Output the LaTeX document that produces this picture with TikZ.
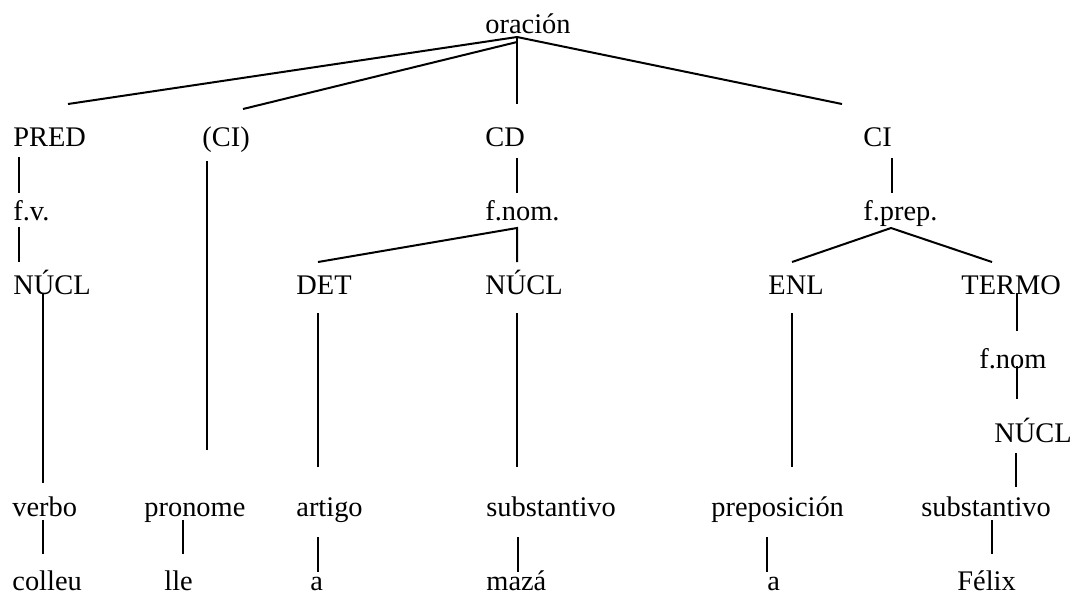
\documentclass[tikz,border=0pt]{standalone}
\usepackage{fontspec}
\setmainfont{Liberation Serif}
\tikzset{
  lbl/.style={anchor=base west, inner sep=0pt, font=\fontsize{14.2}{17}\selectfont},
  edge/.style={line width=1pt, line cap=butt}
}
\begin{document}
\begin{tikzpicture}[x=0.5pt,y=-0.5pt]
\useasboundingbox (0,0) rectangle (1079,596);
% labels
\node[lbl] (orac)  at (485,33)  {oración};
\node[lbl] (pred)  at (13,146)  {PRED};
\node[lbl] (ciA)   at (202,146) {(CI)};
\node[lbl] (cd)    at (485,146) {CD};
\node[lbl] (ci)    at (863,146) {CI};
\node[lbl] (fv)    at (13,220)  {f.v.};
\node[lbl] (fnom)  at (485,220) {f.nom.};
\node[lbl] (fprep) at (863,220) {f.prep.};
\node[lbl] (nuclA) at (13,294)  {NÚCL};
\node[lbl] (det)   at (296,294) {DET};
\node[lbl] (nuclB) at (485,294) {NÚCL};
\node[lbl] (enl)   at (768,294) {ENL};
\node[lbl] (termo) at (961,294) {TERMO};
\node[lbl] (fnomB) at (979,368) {f.nom};
\node[lbl] (nuclC) at (994,442) {NÚCL};
\node[lbl] (verbo) at (12,516)  {verbo};
\node[lbl] (prono) at (144,516) {pronome};
\node[lbl] (artig) at (296,516) {artigo};
\node[lbl] (subsA) at (486,516) {substantivo};
\node[lbl] (prepo) at (711,516) {preposición};
\node[lbl] (subsB) at (921,516) {substantivo};
\node[lbl] (colleu) at (12,590) {colleu};
\node[lbl] (lle)   at (164,590) {lle};
\node[lbl] (artA)  at (310,590) {a};
\node[lbl] (maza)  at (486,590) {mazá};
\node[lbl] (artB)  at (767,590) {a};
\node[lbl] (felix) at (957,590) {Félix};
% branch points
\coordinate (orac-a)  at (517,37);
\coordinate (orac-b)  at (517,42);
\coordinate (pred-t)  at (68,104);
\coordinate (ciA-t)   at (243,109);
\coordinate (cd-t)    at (517,104);
\coordinate (ci-t)    at (842,104);
\coordinate (fnom-a)  at (517,228);
\coordinate (det-t)   at (318,262);
\coordinate (nuclB-t) at (517,262);
\coordinate (fprep-a) at (891,228);
\coordinate (enl-t)   at (792,262);
\coordinate (termo-t) at (992,262);
\draw[edge] (orac-a) -- (pred-t);
\draw[edge] (orac-b) -- (ciA-t);
\draw[edge] (orac-a) -- (cd-t);
\draw[edge] (orac-a) -- (ci-t);
\draw[edge] (det-t) -- (fnom-a) -- (nuclB-t);
\draw[edge] (enl-t) -- (fprep-a) -- (termo-t);
% vertical stubs
\foreach \n/\x/\a/\b in {pred/19/157/193, cd/517/158/193, ci/892/158/193,
  ciA/207/161/450, fv/19/227/262, nuclA/43/293/483, det/318/313/467,
  nuclB/517/313/467, enl/792/313/467, termo/1017/293/331,
  fnomB/1017/366/399, nuclC/1016/453/487, verbo/43/520/554,
  prono/183/520/554, artig/318/537/572, subsA/518/537/572,
  prepo/767/537/572, subsB/992/520/554}
{   \coordinate (\n-u) at (\x,\a);
    \coordinate (\n-d) at (\x,\b);
    \draw[edge] (\n-u) -- (\n-d);
}
\end{tikzpicture}
\end{document}
